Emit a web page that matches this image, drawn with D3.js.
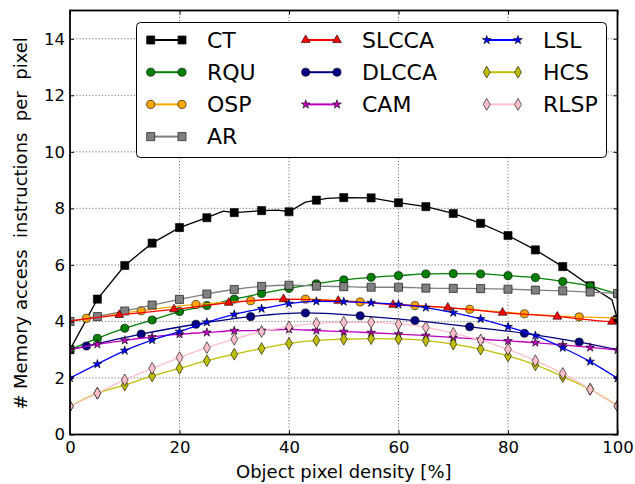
<!DOCTYPE html>
<html><head><meta charset="utf-8">
<script src="https://cdn.jsdelivr.net/npm/d3@7"></script>
<style>
body{margin:0;background:#fff}
text{font-family:"DejaVu Sans",sans-serif;fill:#000}
</style>
</head><body><svg id="c" width="635" height="484"></svg>
<script>
// ---------- data ----------
const xTicks = [0,20,40,60,80,100];
const yTicks = [0,2,4,6,8,10,12,14];
const xPct = [0,5,10,15,20,25,30,35,40,45,50,55,60,65,70,75,80,85,90,95,100];

const ctValues   = [3.0,4.79,5.98,6.77,7.32,7.67,7.85,7.92,7.88,8.29,8.38,8.37,8.20,8.06,7.82,7.47,7.04,6.53,5.94,5.26,4.07];
const ctDetailX  = [28,38,43,47,99];
const ctDetailY  = [7.90,7.94,8.22,8.35,4.76];
const rquValues  = [3.0,3.40,3.76,4.05,4.35,4.56,4.79,4.99,5.17,5.33,5.47,5.56,5.62,5.68,5.69,5.68,5.62,5.55,5.41,5.25,4.97];
const arValues   = [4.0,4.17,4.37,4.58,4.78,4.97,5.13,5.24,5.28,5.25,5.23,5.21,5.21,5.18,5.17,5.16,5.14,5.11,5.08,5.04,4.99];
const camValues  = [3.0,3.19,3.33,3.45,3.55,3.61,3.67,3.68,3.72,3.68,3.64,3.60,3.55,3.50,3.43,3.37,3.31,3.25,3.17,3.08,2.99];
const lslValues  = [2.0,2.49,2.97,3.34,3.64,3.97,4.25,4.45,4.63,4.71,4.70,4.66,4.60,4.49,4.31,4.09,3.81,3.50,3.07,2.58,1.99];
const hcsValues  = [1.0,1.46,1.75,2.07,2.34,2.61,2.84,3.04,3.22,3.33,3.37,3.39,3.38,3.32,3.20,3.02,2.78,2.46,2.05,1.60,1.02];
const rlspValues = [1.0,1.46,1.93,2.34,2.72,3.07,3.37,3.64,3.81,3.93,3.97,3.97,3.91,3.79,3.58,3.34,3.01,2.61,2.16,1.60,1.0];

const ospX       = [0,3,13,23,33,43,53,63,73,83,93,100];
const ospValues  = [4.0,4.11,4.38,4.60,4.73,4.79,4.69,4.56,4.43,4.27,4.16,4.12];
const slccaX     = [0,9,19,29,39,49,59,69,79,89,99,100];
const slccaValues= [4.02,4.23,4.43,4.66,4.79,4.73,4.59,4.49,4.31,4.17,3.99,3.98];
const dlccaX     = [0,3,13,23,33,43,53,63,73,83,93,100];
const dlccaValues= [3.0,3.13,3.55,3.90,4.17,4.30,4.20,4.03,3.81,3.58,3.27,3.0];

const seriesNames = ["CT","RQU","OSP","AR","SLCCA","DLCCA","CAM","LSL","HCS","RLSP"];

// ---------- layout ----------
const svg = d3.select("#c");
const L = 70, R = 617.5, T = 10.5, B = 434.5;
const x = d3.scaleLinear().domain([0,100]).range([L,R]);
const y = d3.scaleLinear().domain([0,15]).range([B,T]);

const zip = (xs, ys) => xs.map((v,i)=>[v, ys[i]]);
const ctLine = zip(xPct, ctValues).concat(zip(ctDetailX, ctDetailY)).sort((a,b)=>a[0]-b[0]);

const S = {
  square: d3.symbolSquare, circle: d3.symbolCircle, tri: d3.symbolTriangle,
  star: d3.symbolStar, diamond: d3.symbolDiamond
};
const series = [
  {name:"CT",    line: ctLine,                  marks: zip(xPct, ctValues),  color:"#000000", fill:"#000000", sym:"square",  size:66, curve:d3.curveLinear},
  {name:"RQU",   line: zip(xPct, rquValues),    marks: zip(xPct, rquValues), color:"#008000", fill:"#008000", sym:"circle",  size:52, curve:d3.curveMonotoneX},
  {name:"OSP",   line: zip(ospX, ospValues),    marks: zip(ospX, ospValues).slice(1,-1), color:"#FFA500", fill:"#FFA500", sym:"circle", size:52, curve:d3.curveMonotoneX},
  {name:"AR",    line: zip(xPct, arValues),     marks: zip(xPct, arValues),  color:"#808080", fill:"#808080", sym:"square",  size:66, curve:d3.curveMonotoneX},
  {name:"SLCCA", line: zip(slccaX, slccaValues),marks: zip(slccaX, slccaValues).slice(1,-1), color:"#FF0000", fill:"#FF0000", sym:"tri", size:34, curve:d3.curveMonotoneX},
  {name:"DLCCA", line: zip(dlccaX, dlccaValues),marks: zip(dlccaX, dlccaValues).slice(1,-1), color:"#000080", fill:"#000080", sym:"circle", size:52, curve:d3.curveMonotoneX},
  {name:"CAM",   line: zip(xPct, camValues),    marks: zip(xPct, camValues), color:"#BF00BF", fill:"#BF00BF", sym:"star",    size:24, curve:d3.curveMonotoneX},
  {name:"LSL",   line: zip(xPct, lslValues),    marks: zip(xPct, lslValues), color:"#0000FF", fill:"#0000FF", sym:"star",    size:24, curve:d3.curveMonotoneX},
  {name:"HCS",   line: zip(xPct, hcsValues),    marks: zip(xPct, hcsValues), color:"#BFBF00", fill:"#BFBF00", sym:"diamond", size:40, curve:d3.curveMonotoneX},
  {name:"RLSP",  line: zip(xPct, rlspValues),   marks: zip(xPct, rlspValues),color:"#FFC0CB", fill:"#FFC0CB", sym:"diamond", size:40, curve:d3.curveMonotoneX}
];

svg.append("defs").append("clipPath").attr("id","clip")
  .append("rect").attr("x",L).attr("y",T).attr("width",R-L).attr("height",B-T);

// grid
const grid = svg.append("g");
grid.selectAll(".gx").data(xTicks.filter(d=>d>0&&d<100)).join("line")
  .attr("x1",d=>x(d)).attr("x2",d=>x(d)).attr("y1",T).attr("y2",B)
  .attr("stroke","#333").attr("stroke-width",0.8).attr("stroke-dasharray","1,2.2");
grid.selectAll(".gy").data(yTicks.filter(d=>d>0)).join("line")
  .attr("x1",L).attr("x2",R).attr("y1",d=>y(d)).attr("y2",d=>y(d))
  .attr("stroke","#333").attr("stroke-width",0.8).attr("stroke-dasharray","1,2.2");

// series
const plot = svg.append("g").attr("clip-path","url(#clip)");
const lineGen = c => d3.line().x(d=>x(d[0])).y(d=>y(d[1])).curve(c);
series.forEach(s=>{
  plot.append("path").attr("d", lineGen(s.curve)(s.line))
    .attr("fill","none").attr("stroke",s.color).attr("stroke-width",1.3);
  plot.selectAll(null).data(s.marks).join("path")
    .attr("transform",d=>`translate(${x(d[0])},${y(d[1])})`)
    .attr("d", d3.symbol().type(S[s.sym]).size(s.size)())
    .attr("fill",s.fill).attr("stroke","#000").attr("stroke-width",0.6);
});

// axes
const fs = "16.5px";
const ax = svg.append("g");
const bx = ax.append("g").attr("transform",`translate(0,${B})`)
  .call(d3.axisBottom(x).tickValues(xTicks).tickSize(-4).tickPadding(7));
const lx = ax.append("g").attr("transform",`translate(${L},0)`)
  .call(d3.axisLeft(y).tickValues(yTicks).tickSize(-4).tickPadding(5));
const tx = ax.append("g").attr("transform",`translate(0,${T})`)
  .call(d3.axisTop(x).tickValues(xTicks).tickSize(-4).tickFormat(""));
const rx = ax.append("g").attr("transform",`translate(${R},0)`)
  .call(d3.axisRight(y).tickValues(yTicks).tickSize(-4).tickFormat(""));
[bx,lx,tx,rx].forEach(g=>{
  g.select(".domain").remove();
  g.selectAll("line").attr("stroke","#000").attr("stroke-width",1);
  g.selectAll("text").style("font-size",fs).style("font-family","DejaVu Sans").attr("fill","#000");
});
ax.append("rect").attr("x",L).attr("y",T).attr("width",R-L).attr("height",B-T)
  .attr("fill","none").attr("stroke","#000").attr("stroke-width",1.8);

// axis labels
svg.append("text").attr("x",(L+R)/2).attr("y",478).attr("text-anchor","middle")
  .style("font-size","18px").text("Object pixel density [%]");
svg.append("text").attr("transform",`translate(26.5,${(T+B)/2+1}) rotate(-90)`)
  .attr("text-anchor","middle").style("font-size","18px").style("white-space","pre")
  .text("# Memory access  instructions  per  pixel");

// legend
const lg = svg.append("g");
lg.append("rect").attr("x",136.5).attr("y",22.5).attr("width",470).attr("height",135)
  .attr("rx",4).attr("fill","#fff").attr("stroke","#000").attr("stroke-width",1);
const colX = [150.7, 305.7, 486.7];
const rowY = [40, 72.2, 104.4, 136.6];
const perCol = [4,3,3];
let idx = 0;
perCol.forEach((n,c)=>{
  for(let r=0;r<n;r++){
    const s = series[idx++];
    const x0 = colX[c], x1 = colX[c]+31.3, yy = rowY[r];
    lg.append("line").attr("x1",x0).attr("x2",x1).attr("y1",yy).attr("y2",yy)
      .attr("stroke",s.color).attr("stroke-width",2);
    [x0,x1].forEach(px=>lg.append("path").attr("transform",`translate(${px},${yy})`)
      .attr("d", d3.symbol().type(S[s.sym]).size(s.size)())
      .attr("fill",s.fill).attr("stroke","#000").attr("stroke-width",0.6));
    lg.append("text").attr("x",x1+25).attr("y",yy).attr("dy","0.35em")
      .style("font-size","22px").text(seriesNames[idx-1]);
  }
});
</script>
</body></html>
